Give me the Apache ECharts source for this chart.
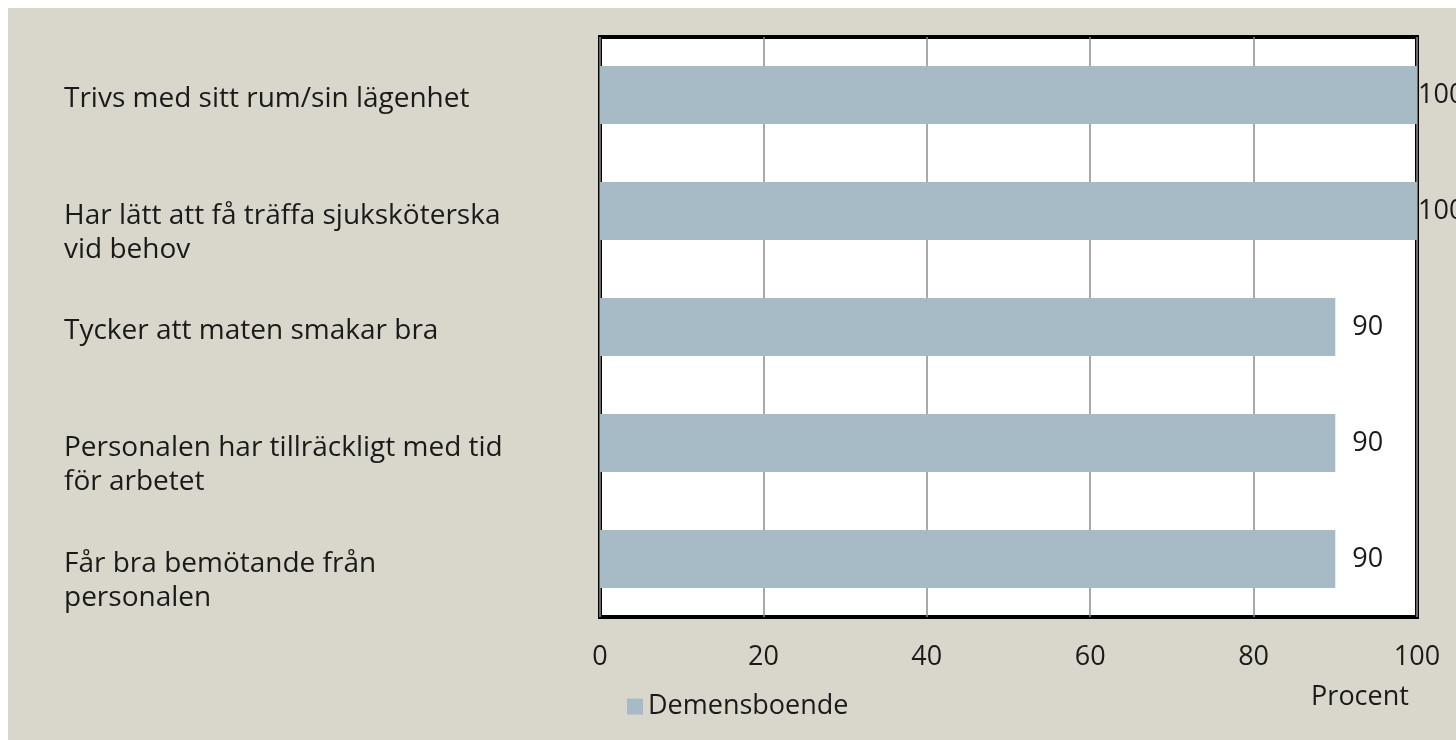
<!DOCTYPE html>
<html>
<head>
<meta charset="UTF-8">
<title>Demensboende</title>
<script src="https://cdn.jsdelivr.net/npm/echarts@6/dist/echarts.min.js"></script>
<style>
  html, body { margin: 0; padding: 0; background: #ffffff; }
  #main { position: absolute; left: 8px; top: 8px; width: 1448px; height: 732px; background: #d9d7cb; }
</style>
</head>
<body>
<div id="main"></div>
<script type="text/javascript">
// kategorier (uppifrån och ned) och värden i procent
var categories = [
  'Trivs med sitt rum/sin lägenhet',
  'Har lätt att få träffa sjuksköterska\nvid behov',
  'Tycker att maten smakar bra',
  'Personalen har tillräckligt med tid\nför arbetet',
  'Får bra bemötande från\npersonalen'
];
var values = [100, 100, 90, 90, 90];
var xTicks = [0, 20, 40, 60, 80, 100];
var seriesName = 'Demensboende';
var axisName = 'Procent';

var FONT = '"Open Sans", sans-serif';
var myChart = echarts.init(document.getElementById('main'));

var option = {
  animation: false,
  textStyle: { fontFamily: FONT, color: '#1a1a1a' },
  grid: {
    left: 592, top: 29, width: 817, height: 580,
    show: true, backgroundColor: '#ffffff', borderColor: '#000000', borderWidth: 4
  },
  legend: {
    data: [seriesName],
    left: 614, top: 680,
    icon: 'rect', itemWidth: 16, itemHeight: 16,
    textStyle: { fontFamily: FONT, fontSize: 27, color: '#1a1a1a' }
  },
  xAxis: {
    type: 'value', min: xTicks[0], max: xTicks[xTicks.length - 1], interval: 20,
    axisLine: { show: false }, axisTick: { show: false },
    splitLine: { show: true, lineStyle: { color: '#8c8c8c', width: 1.5 } },
    axisLabel: { margin: 27, fontSize: 27, color: '#1a1a1a', fontFamily: FONT },
    name: axisName, nameLocation: 'end', nameGap: -57,
    nameTextStyle: { fontSize: 27, color: '#1a1a1a', fontFamily: FONT, align: 'center', verticalAlign: 'top', padding: [67, 0, 0, 0] }
  },
  yAxis: {
    type: 'category', inverse: true, data: categories,
    axisLine: { show: false }, axisTick: { show: false },
    axisLabel: {
      margin: 536, align: 'left', color: '#1a1a1a', fontFamily: FONT,
      // tvåradiga etiketter börjar i höjd med stapeln, som i originalet
      formatter: function (v) {
        var lines = v.split('\n');
        var gap = lines.length > 1 ? '{g2| }' : '{g1| }';
        return gap + '\n' + lines.map(function (s) { return '{t|' + s + '}'; }).join('\n');
      },
      rich: {
        t: { fontSize: 28, lineHeight: 34, color: '#1a1a1a', fontFamily: FONT },
        g1: { fontSize: 1, lineHeight: 8 },
        g2: { fontSize: 1, lineHeight: 44 }
      }
    }
  },
  series: [{
    name: seriesName,
    type: 'bar',
    barWidth: '50%',
    itemStyle: { color: '#a6bbc6' },
    label: { show: true, position: 'right', distance: 17, fontSize: 27, color: '#1a1a1a', fontFamily: FONT },
    data: values.map(function (v) {
      return v >= 100 ? { value: v, label: { distance: 1 } } : v;
    })
  }]
};
myChart.setOption(option);
</script>
</body>
</html>
